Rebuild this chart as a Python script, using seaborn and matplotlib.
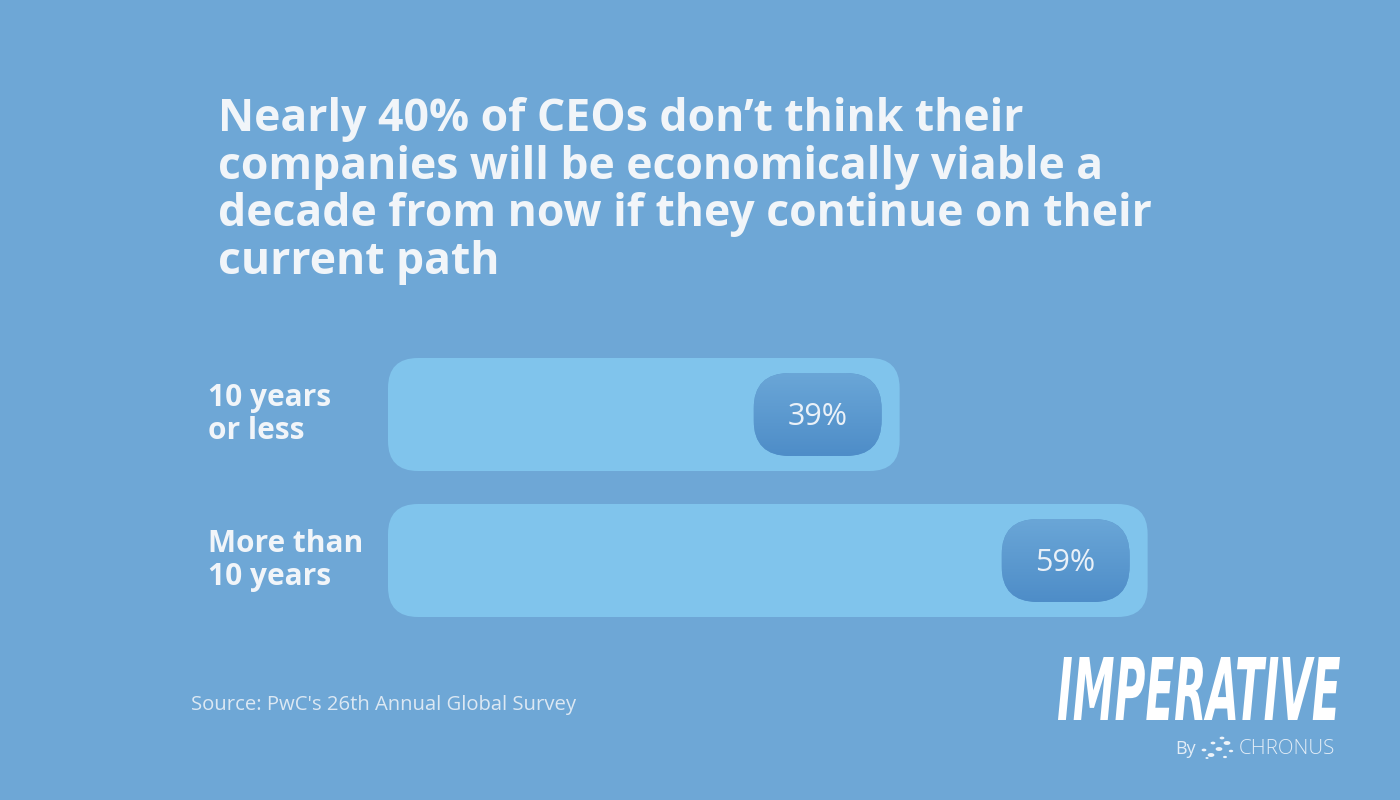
import numpy as np
import pandas as pd
import seaborn as sns
import matplotlib.pyplot as plt
from matplotlib.patches import FancyBboxPatch, PathPatch, Circle
from matplotlib.textpath import TextPath
from matplotlib.font_manager import FontProperties
from matplotlib.transforms import Affine2D

# data
categories = ["10 years\nor less", "More than\n10 years"]
values = [39, 59]
value_labels = ["39%", "59%"]

title = ("Nearly 40% of CEOs don\u2019t think their\n"
         "companies will be economically viable a\n"
         "decade from now if they continue on their\n"
         "current path")
source = "Source: PwC's 26th Annual Global Survey"

BG = "#6ea7d6"
BAR = "#80c4ec"
TXT = "#f1f5f9"

W, H = 1400, 800
PX_X = 12.4       # pixels per percentage point
PX_Y = 146        # pixels per category step
BAR_START = -2.26  # bar left edge in data units (rounded pad)

sns.set_theme(style="white")
plt.rcParams["font.family"] = ["Open Sans", "DejaVu Sans"]

fig = plt.figure(figsize=(14, 8), dpi=100)
fig.patch.set_facecolor(BG)

# axes placed so bars land on the same pixels as the reference
ax_left, ax_right = 388, 1300
ax_top, ax_bot = 341.5, 633.5
ax = fig.add_axes([ax_left / W, 1 - ax_bot / H,
                   (ax_right - ax_left) / W, (ax_bot - ax_top) / H])
ax.set_facecolor(BG)

df = pd.DataFrame({"category": categories, "value": values})
sns.barplot(data=df, x="value", y="category", orient="h", width=0.774,
            color=BAR, ax=ax)

xmin = BAR_START
xmax = BAR_START + (ax_right - ax_left) / PX_X
aspect = PX_X / PX_Y

bars = list(ax.patches)
for p, lab in zip(bars, value_labels):
    p.set_visible(False)
    y0, h = p.get_y(), p.get_height()
    x1 = p.get_width()
    r = 30 / PX_X
    box = FancyBboxPatch((BAR_START, y0), x1 - BAR_START, h,
                         boxstyle=f"round,pad=0,rounding_size={r}",
                         mutation_aspect=aspect,
                         fc=BAR, ec="none", zorder=2)
    ax.add_patch(box)

    # badge with vertical gradient
    bw = 128 / PX_X
    bh = 83 / PX_Y
    bx = x1 - 18 / PX_X - bw
    by = y0 + h / 2 - bh / 2
    badge = FancyBboxPatch((bx, by), bw, bh,
                           boxstyle=f"round,pad=0,rounding_size={36 / PX_X}",
                           mutation_aspect=aspect,
                           fc="#5b97cd", ec="none", zorder=3)
    ax.add_patch(badge)
    grad = np.linspace(0, 1, 64).reshape(-1, 1)
    cmap = sns.blend_palette(["#6aa6d7", "#4e8dc8"], as_cmap=True)
    im = ax.imshow(grad, cmap=cmap, aspect="auto", zorder=3.5,
                   extent=(bx, bx + bw, by + bh, by), interpolation="bilinear")
    im.set_clip_path(badge)
    ax.text(bx + bw / 2, by + bh / 2 + 0.015, lab, ha="center", va="center",
            fontsize=22, color="#eaf1f8", zorder=5)

ax.set_xlim(xmin, xmax)
ax.set_ylim(1.5, -0.5)
ax.axis("off")

# category labels
for i, cat in enumerate(categories):
    y_px = ax_top + PX_Y * (i + 0.5)
    fig.text(208 / W, 1 - y_px / H, cat, ha="left", va="center",
             fontsize=21.5, fontweight="bold", color=TXT, linespacing=1.1)

# title
fig.text(218 / W, 1 - 97 / H, title, ha="left", va="top", fontsize=32,
         fontweight="bold", color=TXT, linespacing=1.075)

# source
fig.text(191 / W, 1 - 705 / H, source, ha="left", va="center",
         fontsize=14.6, color="#dce8f3")

# logo
fp = FontProperties(family="DejaVu Sans", weight="bold", style="oblique")
tp = TextPath((0, 0), "IMPERATIVE", prop=fp, size=10)
ext = tp.get_extents()
x0, y0, x1, y1 = 1058, 720, 1340, 657
sx = (x1 - x0) / ext.width
sy = (y0 - y1) / ext.height
tr = (Affine2D().translate(-ext.x0, -ext.y0).scale(sx, sy)
      .translate(x0, H - y0).scale(1 / W, 1 / H) + fig.transFigure)
fig.patches.append(PathPatch(tp, transform=tr, fc="white", ec="none"))

fig.text(1175 / W, 1 - 749 / H, "By", ha="left", va="center",
         fontsize=13, color="#e3edf7")
fig.text(1239 / W, 1 - 749 / H, "CHRONUS", ha="left", va="center",
         fontsize=14.8, color="#e3edf7", fontweight="light")
for cx, cy, rr in [(1211, 755, 3.4), (1219, 749, 3.4), (1227, 743, 3.4),
                   (1204, 750, 2.4), (1213, 743, 2.4), (1222, 738, 2.4),
                   (1231, 751, 2.2), (1225, 757, 2.0), (1207, 758, 1.6)]:
    fig.patches.append(Circle((cx / W, 1 - cy / H), rr / W,
                              transform=fig.transFigure, fc="#eef4fa", ec="none"))

fig.savefig("out.png", dpi=100, facecolor=BG)
